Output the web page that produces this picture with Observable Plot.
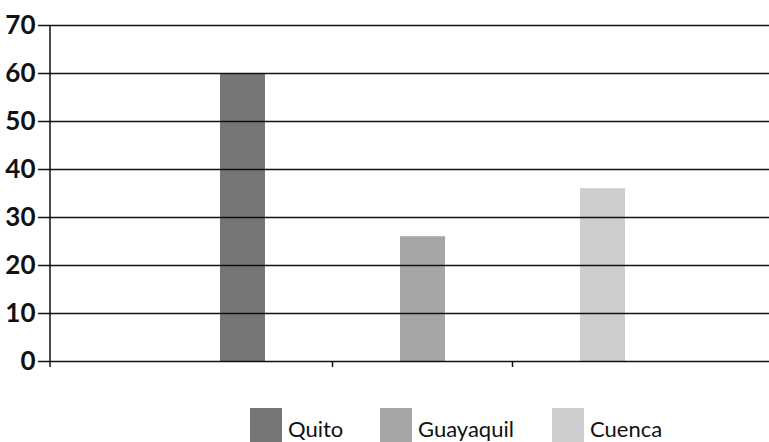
<!DOCTYPE html>
<html>
<head>
<meta charset="utf-8">
<script src="https://cdn.jsdelivr.net/npm/d3@7"></script>
<script src="https://cdn.jsdelivr.net/npm/@observablehq/plot@0.6"></script>
<style>
  html, body { margin: 0; padding: 0; background: #fff; }
  #wrap { position: relative; width: 769px; height: 442px; overflow: hidden; font-family: Lato, "DejaVu Sans", sans-serif; }
  #legend { position: absolute; left: 0; top: 408px; width: 769px; height: 40px; }
  .item { position: absolute; top: 0; display: flex; align-items: flex-start; }
  .sw { width: 32px; height: 34px; }
  .lab { font-size: 22px; color: #111; margin-left: 6px; line-height: 34px; padding-top: 4px; }
</style>
</head>
<body>
<div id="wrap">
  <div id="chart"></div>
  <div id="legend"></div>
</div>
<script>
const cities = ["Quito", "Guayaquil", "Cuenca"];
const values = [60, 26, 36];
const colors = ["#767676", "#a6a6a6", "#cdcdcd"];
const yTicks = [0, 10, 20, 30, 40, 50, 60, 70];

const data = cities.map((c, i) => ({city: c, value: values[i]}));

function axisLines(index, scales, vals, dims) {
  const x = scales.x, y = scales.y;
  const g = d3.create("svg:g").attr("stroke", "#111").attr("stroke-width", 1.5);
  g.append("line")
    .attr("x1", dims.marginLeft).attr("x2", dims.marginLeft)
    .attr("y1", y(70)).attr("y2", y(0) + 6);
  const step = x.step(), bw = x.bandwidth();
  cities.slice(1).forEach(c => {
    const bx = x(c) - (step - bw) / 2;
    g.append("line").attr("x1", bx).attr("x2", bx)
      .attr("y1", y(0)).attr("y2", y(0) + 6);
  });
  return g.node();
}

const chart = Plot.plot({
  width: 769,
  height: 390,
  marginTop: 25,
  marginBottom: 29,
  marginLeft: 50,
  marginRight: 0,
  style: {fontFamily: "Lato, 'DejaVu Sans', sans-serif", fontSize: "26px", color: "#111", background: "#fff"},
  x: {type: "band", domain: cities, range: [152, 692], paddingInner: 0.75, paddingOuter: 0.375, axis: null},
  y: {domain: [0, 70], label: null},
  color: {domain: cities, range: colors},
  marks: [
    Plot.barY(data, {x: "city", y: "value", fill: "city"}),
    Plot.ruleY(yTicks, {stroke: "#111", strokeWidth: 1.5}),
    Plot.axisY({ticks: yTicks, tickSize: 12, tickPadding: 3, fontSize: 26, fontWeight: "bold", tickFormat: d => String(d), label: null, stroke: "#111", strokeWidth: 1.5}),
    axisLines
  ]
});
document.getElementById("chart").appendChild(chart);

const legendX = [250, 380, 552];
const legend = document.getElementById("legend");
cities.forEach((c, i) => {
  const it = document.createElement("div");
  it.className = "item";
  it.style.left = legendX[i] + "px";
  const sw = document.createElement("div");
  sw.className = "sw";
  sw.style.background = colors[i];
  const lab = document.createElement("div");
  lab.className = "lab";
  lab.textContent = c;
  it.appendChild(sw); it.appendChild(lab);
  legend.appendChild(it);
});
</script>
</body>
</html>
